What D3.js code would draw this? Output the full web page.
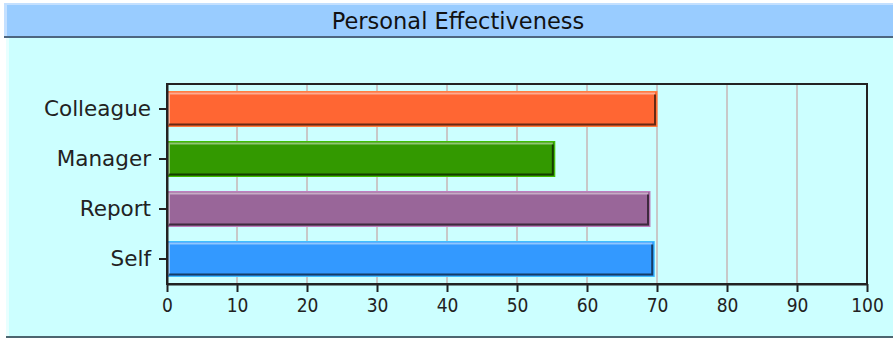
<!DOCTYPE html>
<html lang="en">
<head>
<meta charset="utf-8">
<title>Personal Effectiveness</title>
<script src="https://cdn.jsdelivr.net/npm/d3@7"></script>
<style>
  body { margin: 0; background: #fff; }
  svg { display: block; font-family: "DejaVu Sans", sans-serif; }
  .grid line { stroke: #c8c8c8; stroke-width: 2px; }
  .axis path, .axis line { stroke: #222; stroke-width: 2px; }
  .axis text { fill: #222; }
</style>
</head>
<body>
<svg width="893" height="340"></svg>
<script>
var title = "Personal Effectiveness";
var categories = ["Colleague", "Manager", "Report", "Self"];
var values = [70, 55.4, 69, 69.6];
var colors = ["#ff6633", "#339900", "#996699", "#3399ff"];
var tickValues = [0, 10, 20, 30, 40, 50, 60, 70, 80, 90, 100];

var svg = d3.select("svg");
var W = 893, H = 340;
var margin = {left: 167, right: 26, top: 84, bottom: 56};

// panel background
svg.append("rect").attr("x", 6).attr("y", 38).attr("width", W - 6).attr("height", 300).attr("fill", "#ccffff");
svg.append("rect").attr("x", 6).attr("y", 38).attr("width", 3).attr("height", 300).attr("fill", "#e8ffff");
svg.append("rect").attr("x", 6).attr("y", 336).attr("width", W - 6).attr("height", 2).attr("fill", "#4d6670");

// header
svg.append("rect").attr("x", 4).attr("y", 3).attr("width", W - 4).attr("height", 35).attr("fill", "#99ccff");
svg.append("rect").attr("x", 4).attr("y", 3).attr("width", W - 4).attr("height", 2).attr("fill", "#c4e0ff");
svg.append("rect").attr("x", 4).attr("y", 3).attr("width", 3).attr("height", 35).attr("fill", "#c4e0ff");
svg.append("rect").attr("x", 4).attr("y", 36).attr("width", W - 4).attr("height", 2).attr("fill", "#4d6680");
svg.append("text").attr("x", 458).attr("y", 29).attr("text-anchor", "middle")
  .attr("font-size", "22.5px").attr("fill", "#111").text(title);

var x = d3.scaleLinear().domain([0, 100]).range([margin.left, W - margin.right]);
var y = d3.scaleBand().domain(categories).range([margin.top, H - margin.bottom]).paddingInner(0.3).paddingOuter(0.15);

// grid
svg.append("g").attr("class", "grid")
  .selectAll("line").data(tickValues.slice(1, -1)).enter().append("line")
  .attr("x1", function(d) { return x(d); }).attr("x2", function(d) { return x(d); })
  .attr("y1", margin.top).attr("y2", H - margin.bottom);

// bars with bevel
var bars = svg.append("g").selectAll("g").data(values).enter().append("g");
bars.append("rect")
  .attr("x", x(0)).attr("y", function(d, i) { return y(categories[i]); })
  .attr("width", function(d) { return x(d) - x(0); }).attr("height", y.bandwidth())
  .attr("fill", function(d, i) { return colors[i]; })
  .attr("stroke", function(d, i) { return d3.color(colors[i]).brighter(0.6); }).attr("stroke-width", 1);
bars.append("path")
  .attr("d", function(d, i) {
    var x0 = x(0) + 2, x1 = x(d) - 2, y0 = y(categories[i]) + 2, y1 = y(categories[i]) + y.bandwidth() - 2;
    return "M" + x0 + "," + y1 + "V" + y0 + "H" + x1;
  })
  .attr("fill", "none").attr("stroke", "rgba(255,255,255,0.45)").attr("stroke-width", 2);
bars.append("path")
  .attr("d", function(d, i) {
    var x0 = x(0) + 2, x1 = x(d) - 2, y0 = y(categories[i]) + 3, y1 = y(categories[i]) + y.bandwidth() - 2;
    return "M" + x0 + "," + y1 + "H" + x1 + "V" + y0;
  })
  .attr("fill", "none").attr("stroke", "rgba(0,0,0,0.6)").attr("stroke-width", 2);

// frame
svg.append("rect").attr("x", margin.left).attr("y", margin.top)
  .attr("width", x(100) - x(0)).attr("height", H - margin.bottom - margin.top)
  .attr("fill", "none").attr("stroke", "#222").attr("stroke-width", 2);

// axes
svg.append("g").attr("class", "axis").attr("transform", "translate(0," + (H - margin.bottom) + ")")
  .call(d3.axisBottom(x).tickValues(tickValues).tickSize(8).tickSizeOuter(0).tickPadding(7))
  .attr("font-family", "'DejaVu Sans Condensed', 'DejaVu Sans', sans-serif")
  .selectAll("text").attr("font-size", "19px");
svg.append("g").attr("class", "axis").attr("transform", "translate(" + margin.left + ",0)")
  .call(d3.axisLeft(y).tickSize(8).tickSizeOuter(0).tickPadding(8))
  .attr("font-family", "'DejaVu Sans', sans-serif")
  .selectAll("text").attr("font-size", "21.5px");
</script>
</body>
</html>
